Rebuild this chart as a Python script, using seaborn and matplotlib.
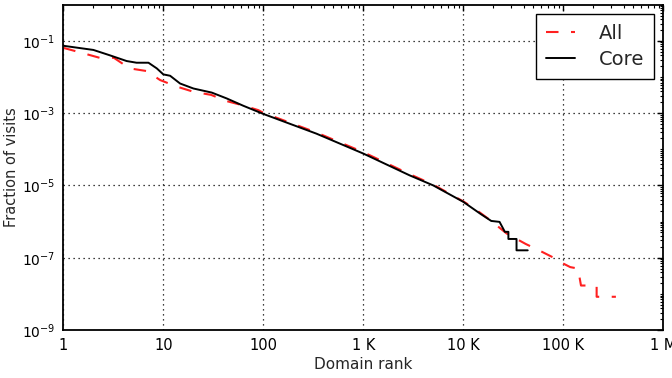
import seaborn as sns
import matplotlib
matplotlib.use("Agg")
import matplotlib.pyplot as plt
import matplotlib.ticker as mticker
import pandas as pd

# Rank / fraction-of-visits curves
all_rank = [1, 1.6, 2.3, 3.2, 4.6, 6.8, 9.3, 13.7, 20, 30, 43, 61, 89,
            100, 340, 1000, 2900, 5000, 10000, 12600, 18500, 27000, 42000,
            57000, 80000, 93000, 117000, 140000, 150000, 215000, 215000, 335000]
all_frac = [0.064, 0.045, 0.034, 0.034, 0.0173, 0.0146, 0.0082, 0.0054, 0.0039,
            0.0032, 0.00215, 0.00167, 0.00121,
            0.00102, 2.9e-4, 8.3e-5, 2.05e-5, 1.05e-5, 3.6e-6, 2.4e-6, 1.1e-6,
            4.7e-7, 2.4e-7, 1.6e-7, 1.0e-7, 7.6e-8, 5.5e-8, 5.0e-8, 1.7e-8,
            1.7e-8, 8.3e-9, 8.3e-9]

core_rank = [1, 2, 2.9, 4.3, 5.4, 7.1, 8.6, 10, 11.7, 14.7, 20, 30.5, 43, 63,
             100, 340, 1000, 2900, 5000, 10000, 14700, 19000, 23000, 26000,
             28200, 28200, 34000, 34000, 44000]
core_frac = [0.073, 0.056, 0.040, 0.0276, 0.0248, 0.0248, 0.0173, 0.0118,
             0.0108, 0.0066, 0.0048, 0.0037, 0.00255, 0.0016,
             9.5e-4, 2.7e-4, 7.6e-5, 1.9e-5, 1.0e-5, 3.5e-6, 1.66e-6, 1.04e-6,
             9.8e-7, 5.2e-7, 5.2e-7, 3.3e-7, 3.3e-7, 1.6e-7, 1.6e-7]

x_ticks = [1, 10, 100, 1e3, 1e4, 1e5, 1e6]
x_labels = ["1", "10", "100", "1 K", "10 K", "100 K", "1 M"]
y_ticks = [1e-9, 1e-7, 1e-5, 1e-3, 1e-1]

df = pd.concat([
    pd.DataFrame({"rank": all_rank, "frac": all_frac, "set": "All"}),
    pd.DataFrame({"rank": core_rank, "frac": core_frac, "set": "Core"}),
])

sns.set_theme(style="white")
plt.rcParams["font.family"] = ["DejaVu Sans"]
plt.rcParams["mathtext.fontset"] = "cm"

fig = plt.figure(figsize=(6.72, 3.78), dpi=100)
ax = fig.add_axes([0.0942, 0.127, 0.893, 0.8606])

sns.lineplot(data=df[df["set"] == "All"], x="rank", y="frac", ax=ax,
             estimator=None, sort=False, color="#ff2020", lw=1.5,
             dashes=False, label="All")
sns.lineplot(data=df[df["set"] == "Core"], x="rank", y="frac", ax=ax,
             estimator=None, sort=False, color="black", lw=1.4,
             label="Core")
ax.lines[0].set_dashes((6, 6))

ax.set_xscale("log")
ax.set_yscale("log")
ax.set_xlim(1, 1e6)
ax.set_ylim(1e-9, 1)

ax.xaxis.set_major_locator(mticker.FixedLocator(x_ticks))
ax.xaxis.set_major_formatter(mticker.FixedFormatter(x_labels))
ax.xaxis.set_minor_locator(mticker.LogLocator(base=10, subs=range(2, 10), numticks=20))
ax.xaxis.set_minor_formatter(mticker.NullFormatter())
ax.yaxis.set_major_locator(mticker.FixedLocator(y_ticks))
ax.yaxis.set_major_formatter(mticker.LogFormatterMathtext())
ax.yaxis.set_minor_locator(mticker.LogLocator(base=10, subs=range(1, 10), numticks=30))
ax.yaxis.set_minor_formatter(mticker.NullFormatter())

ax.tick_params(which="both", direction="in", top=True, right=True, colors="black")
ax.tick_params(which="major", length=4, width=1, pad=6)
ax.tick_params(axis="x", which="major", labelsize=10.5)
ax.tick_params(axis="y", which="major", labelsize=10, pad=6)
ax.tick_params(which="minor", length=2, width=0.8)
for s in ax.spines.values():
    s.set_color("black")
    s.set_linewidth(1.3)

ax.grid(True, which="major", color="black", linestyle=(0, (1, 3)), lw=0.9)

ax.set_xlabel("Domain rank", fontsize=11, labelpad=3)
ax.set_ylabel("Fraction of visits", fontsize=10.5, labelpad=2)

leg = ax.legend(loc="upper right", fontsize=14, fancybox=False, framealpha=1,
                edgecolor="black", handlelength=1.5, handletextpad=1.2,
                borderpad=0.5, labelspacing=0.35, borderaxespad=0.5)
leg.get_frame().set_linewidth(1.0)

fig.savefig("out.png", dpi=100)
